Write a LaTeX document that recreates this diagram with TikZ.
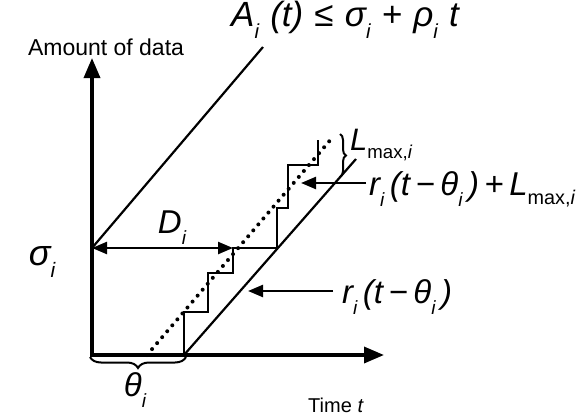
\documentclass[tikz,border=0pt]{standalone}
\usepackage{fontspec}
\usepackage{graphicx}
\setmainfont{Liberation Sans}
\usetikzlibrary{arrows.meta,decorations.pathreplacing}
\newcommand{\sbs}[1]{\raisebox{-0.34em}{\scalebox{0.58}{#1}}}
\newcommand{\lmx}{L\raisebox{-0.28em}{\scalebox{0.6}{\upshape max,\itshape i}}}
\newcommand{\gp}{\hspace{0.32em}}
\begin{document}
\begin{tikzpicture}[x=1pt,y=-1pt,
  axis/.style={line width=3.4pt,-{Triangle[length=20pt,width=16pt]}},
  curve/.style={line width=2.2pt},
  stair/.style={line width=1.3pt},
  ptr/.style={line width=2.4pt,-{Triangle[length=15pt,width=12pt]}},
  dotline/.style={line width=4pt,line cap=round,dash pattern=on 0pt off 7.8pt},
  lab/.style={inner sep=0pt,font=\fontsize{23}{26}\selectfont},
  mlab/.style={inner sep=0pt,font=\fontsize{33}{36}\selectfont\itshape},
  brc/.style={line width=2pt,decorate,decoration={brace,amplitude=11pt}}]
\useasboundingbox (0,0) rectangle (576,418);
% coordinates
\coordinate (O) at (92,355);
\coordinate (Ytop) at (92,58);
\coordinate (Xend) at (384,355);
\coordinate (sig) at (92,248);
\coordinate (Atop) at (263,47);
\coordinate (S0) at (184,355);
\coordinate (S1) at (356,159);
\coordinate (Dend) at (233,248);
\coordinate (P0) at (147,355);
\coordinate (P1) at (332,138);
% axes
\draw[axis] (O) -- (Ytop);
\draw[axis] ([xshift=-2pt]O) -- (Xend);
% arrival curve
\draw[curve] (sig) -- (Atop);
% service curve
\draw[curve] (S0) -- (S1);
% staircase
\draw[stair] (S0) -- (184,312) -- (208,312) -- (208,273) -- (233,273) -- (233,248) -- (277,248)
  -- (277,208) -- (288,208) -- (288,165) -- (318,165) -- (318,140);
% dotted line
\draw[dotline] (P0) -- (P1);
% D arrow
\draw[line width=2.4pt,{Triangle[length=15pt,width=12pt]}-{Triangle[length=15pt,width=12pt]}] (sig) -- (Dend);
% braces
\coordinate (B0) at (90,357);
\coordinate (B1) at (186,357);
\draw[brc,decoration={mirror}] (B0) -- (B1);
\coordinate (L0) at (340,134);
\coordinate (L1) at (340,177);
\draw[brc,decoration={amplitude=6pt}] (L0) -- (L1);
% pointer arrows
\coordinate (R1a) at (366,183);
\coordinate (R1b) at (301,183);
\draw[ptr] (R1a) -- (R1b);
\coordinate (R2a) at (333,291);
\coordinate (R2b) at (248,291);
\draw[ptr] (R2a) -- (R2b);
% labels
\node[lab] (ylab) at (106,47) {Amount of data};
\node[lab,font=\fontsize{20}{24}\selectfont] (xlab) at (336,405) {Time \textit{t}};
\node[mlab,font=\fontsize{35}{38}\selectfont\itshape,anchor=west] (Alab) at (231,20) {A\sbs{i}\gp(t)\gp≤\gp σ\sbs{i}\gp+\gp ρ\sbs{i}\gp t};
\node[mlab,font=\fontsize{36}{38}\selectfont\itshape] (siglab) at (42,262) {σ\sbs{i}};
\node[mlab] (Dlab) at (172,228) {D\sbs{i}};
\node[mlab] (thlab) at (135,390) {θ\sbs{i}};
\node[mlab,font=\fontsize{31}{34}\selectfont\itshape,anchor=west] (Llab) at (350,145) {\lmx};
\node[mlab,anchor=west] (rLlab) at (369,189) {r\sbs{i}\,(t\,−\,θ\sbs{i}\,)\,+\,\lmx};
\node[mlab,anchor=west] (rlab) at (342,297) {r\sbs{i}\,(t\,−\,θ\sbs{i}\,)};
\end{tikzpicture}
\end{document}
